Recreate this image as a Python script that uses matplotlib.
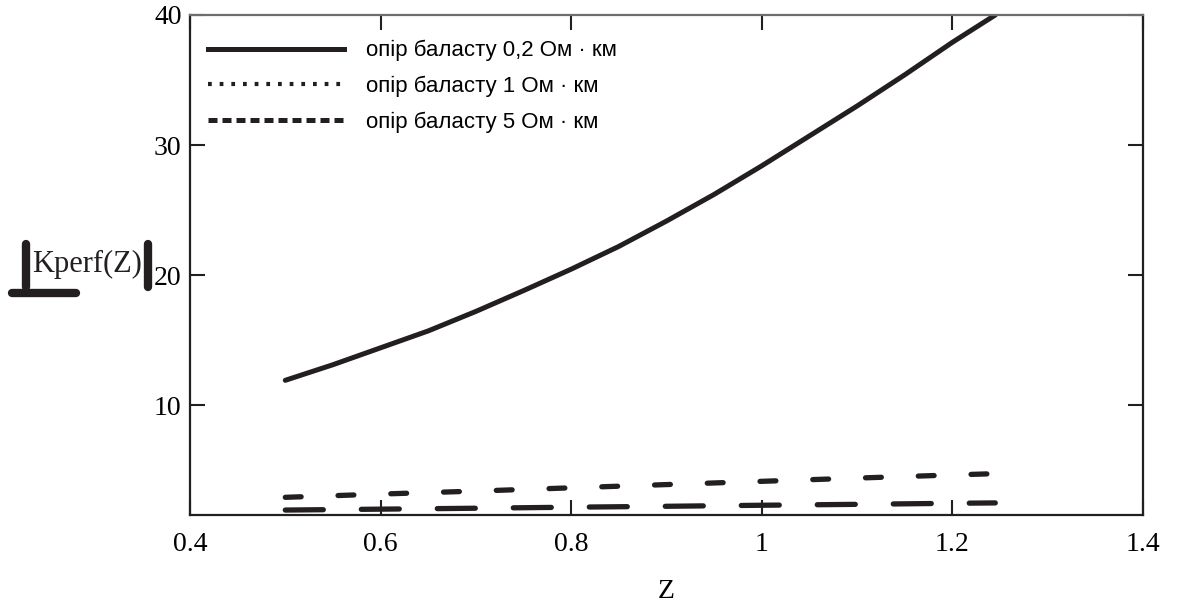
# Kperf(Z) for three ballast resistances
import numpy as np
import matplotlib
matplotlib.use("Agg")
import matplotlib.pyplot as plt
from matplotlib.lines import Line2D

# data
z_02 = [0.50, 0.55, 0.60, 0.65, 0.70, 0.75, 0.80, 0.85, 0.90, 0.95,
        1.00, 1.05, 1.10, 1.15, 1.20, 1.245]
k_02 = [11.9, 13.1, 14.4, 15.7, 17.2, 18.8, 20.45, 22.2, 24.15, 26.2,
        28.4, 30.7, 33.0, 35.4, 37.9, 40.0]

z_low = [0.50, 0.60, 0.70, 0.80, 0.90, 1.00, 1.10, 1.20, 1.245]
k_1 = [1.92, 1.99, 2.06, 2.14, 2.21, 2.29, 2.36, 2.44, 2.47]
k_5 = [2.90, 3.15, 3.38, 3.63, 3.88, 4.13, 4.38, 4.62, 4.72]

labels = ["опір баласту 0,2 Ом · км",
          "опір баласту 1 Ом · км",
          "опір баласту 5 Ом · км"]

x_ticks = [0.4, 0.6, 0.8, 1.0, 1.2, 1.4]
x_ticklabels = ["0.4", "0.6", "0.8", "1", "1.2", "1.4"]
y_ticks = [10, 20, 30, 40]

INK = "#231f20"
SERIF = "Liberation Serif"

fig = plt.figure(figsize=(11.78, 6.04), dpi=100)
ax = fig.add_axes([190/1178, 1-515/604, (1143-190)/1178, (515-15)/604])

ax.plot(z_02, k_02, color=INK, lw=3.6, solid_capstyle="round")
ax.plot(z_low, k_1, color=INK, lw=3.8, linestyle=(0, (7.2, 7.2)),
        dash_capstyle="round")
ax.plot(z_low, k_5, color=INK, lw=3.8, linestyle=(0, (3.0, 7.0)),
        dash_capstyle="round")

ax.set_xlim(0.4, 1.4)
ax.set_ylim(1.54, 40)
ax.set_xticks(x_ticks)
ax.set_xticklabels(x_ticklabels)
ax.set_yticks(y_ticks)
ax.tick_params(direction="in", length=11, width=1.5, color=INK,
               top=True, right=True, labelsize=20, pad=6)
ax.tick_params(axis="x", pad=12)
for lab in ax.get_xticklabels() + ax.get_yticklabels():
    lab.set_fontfamily(SERIF)
for s in ax.spines.values():
    s.set_linewidth(1.6)
    s.set_color(INK)
ax.spines["top"].set_color("#6d6d6d")

ax.set_xlabel("Z", fontsize=20, fontfamily=SERIF, labelpad=16)

# legend (handles drawn with the legend's own small dash patterns)
handles = [
    Line2D([], [], color=INK, lw=3.6),
    Line2D([], [], color=INK, lw=3.0, linestyle=(0, (0.9, 1.9))),
    Line2D([], [], color=INK, lw=3.6, linestyle=(0, (1.8, 1.0))),
]
ax.legend(handles, labels, loc="upper left", frameon=False,
          bbox_to_anchor=(18/953, 1-25/500), borderaxespad=0, borderpad=0,
          prop={"family": "Liberation Sans", "size": 16},
          handlelength=6.1, handletextpad=1.0, labelspacing=0.66)

# Mathcad-style y label with |...| bars
fig.text(32/1178, 1-264/604, "Kperf(Z)", fontsize=22, fontfamily=SERIF,
         ha="left", va="center", color=INK)
for x0, x1, y0, y1 in [(26, 26, 244, 287), (148, 148, 244, 287),
                       (12, 76, 293, 293)]:
    fig.add_artist(Line2D([x0/1178, x1/1178], [1-y0/604, 1-y1/604],
                          transform=fig.transFigure, color=INK, lw=6,
                          solid_capstyle="round"))

fig.savefig("out.png", dpi=100)
